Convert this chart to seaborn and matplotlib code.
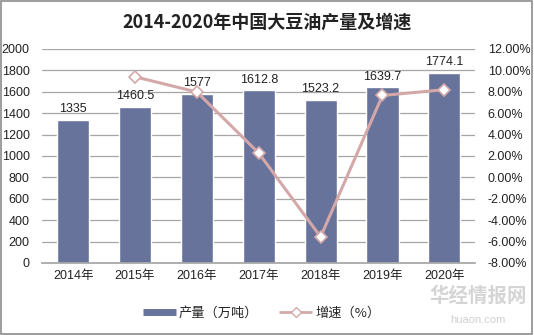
import matplotlib
matplotlib.use("Agg")
import matplotlib.pyplot as plt
import seaborn as sns
import pandas as pd
import numpy as np
from matplotlib.lines import Line2D

years = ["2014年", "2015年", "2016年", "2017年", "2018年", "2019年", "2020年"]
output = [1335, 1460.5, 1577, 1612.8, 1523.2, 1639.7, 1774.1]
output_labels = ["1335", "1460.5", "1577", "1612.8", "1523.2", "1639.7", "1774.1"]
growth = [np.nan, 9.40, 7.97, 2.27, -5.56, 7.65, 8.19]

sns.set_theme(style="white")
plt.rcParams['font.family'] = ['Liberation Sans', 'Noto Sans CJK SC']

bar_color = "#67739B"
line_color = "#D4A8A8"
txt = "#222222"

fig = plt.figure(figsize=(5.34, 3.35), dpi=100)
ax = fig.add_axes([0.079, 0.215, 0.811, 0.639])

df = pd.DataFrame({"year": years, "output": output, "growth": growth})
sns.barplot(data=df, x="year", y="output", color=bar_color, width=0.52,
            saturation=1, ax=ax, zorder=2)
ax.set_ylim(0, 2000)
ax.set_yticks(range(0, 2001, 200))
ax.yaxis.grid(True, color="#A6A6A6", linewidth=0.9, zorder=0)
ax.set_axisbelow(True)
ax.set_xlabel("")
ax.set_ylabel("")
for s in ["top", "left", "right"]:
    ax.spines[s].set_visible(False)
ax.spines["bottom"].set_color("#A6A6A6")
ax.tick_params(axis="both", labelsize=9, colors=txt, length=0, pad=5)
ax.tick_params(axis="y", pad=9)
for i, (v, lab) in enumerate(zip(output, output_labels)):
    ax.text(i, v + 45, lab, ha="center", va="bottom", fontsize=9, color=txt)

ax2 = ax.twinx()
sns.lineplot(x=np.arange(len(years)), y=df["growth"], ax=ax2, color=line_color,
             linewidth=2.2, marker="D", markersize=6, markerfacecolor="white",
             markeredgecolor=line_color, markeredgewidth=1.2, zorder=5)
ax2.set_ylim(-8, 12)
ax2.set_yticks(range(-8, 13, 2))
ax2.set_yticklabels([f"{t:.2f}%" for t in range(-8, 13, 2)])
ax2.set_ylabel("")
for s in ["top", "left", "right", "bottom"]:
    ax2.spines[s].set_visible(False)
ax2.tick_params(axis="y", labelsize=9, colors=txt, length=0, pad=9)
ax.set_xlim(-0.5, len(years) - 0.5)

fig.text(0.5, 0.935, "2014-2020年中国大豆油产量及增速", ha="center", va="center",
         fontsize=13, fontweight="bold", color=txt,
         family=['Noto Sans CJK SC', 'DejaVu Sans'])

handles = [Line2D([0], [0], color=bar_color, linewidth=5, solid_capstyle="butt"),
           Line2D([0], [0], color=line_color, linewidth=2, marker="D", markersize=5,
                  markerfacecolor="white", markeredgecolor=line_color,
                  solid_capstyle="butt")]
fig.legend(handles, ["产量（万吨）", "增速（%）"], loc="center", bbox_to_anchor=(0.49, 0.065),
           ncol=2, frameon=False, handlelength=2.5, handletextpad=0.2,
           columnspacing=1.6, prop={'family': ['Noto Sans CJK SC', 'DejaVu Sans'], 'size': 9.5})

# watermark
fig.text(0.895, 0.115, "华经情报网", ha="center", va="center", fontsize=14,
         color="#D0D0D0", fontweight="bold", alpha=0.9,
         family=['Noto Sans CJK SC', 'DejaVu Sans'])
fig.text(0.895, 0.045, "huaon.com", ha="center", va="center", fontsize=8,
         color="#D0D0D0")

border = plt.Rectangle((0.002, 0.003), 0.995, 0.993, transform=fig.transFigure,
                       fill=False, edgecolor="#8C8C8C", linewidth=1.2)
fig.patches.append(border)

fig.savefig("out.png", dpi=100)
